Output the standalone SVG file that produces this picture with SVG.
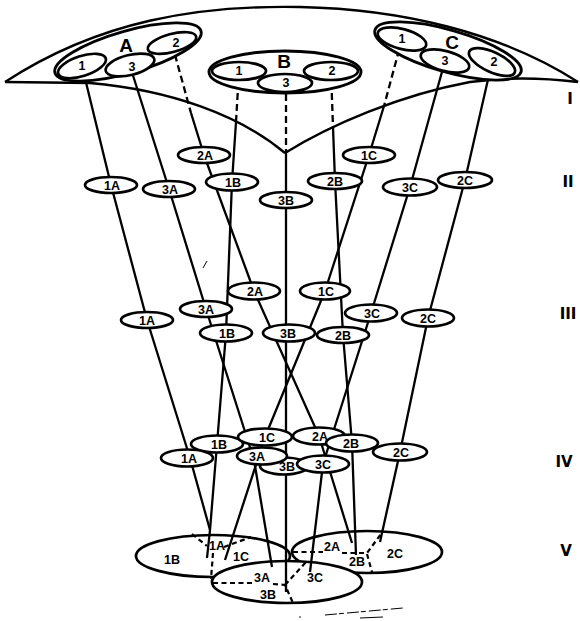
<svg xmlns="http://www.w3.org/2000/svg" width="580" height="621" viewBox="0 0 580 621">
<defs>
<style>
.lens{fill:none;stroke:#000;stroke-width:2.4;stroke-linejoin:round}
.e{fill:#fff;stroke:#000;stroke-width:2.7}
.eb{fill:#fff;stroke:#000;stroke-width:2.9}
.c{fill:none;stroke:#000;stroke-width:2.3;stroke-linejoin:round}
.d{stroke-dasharray:7 4}
.p{fill:none;stroke:#000;stroke-width:2.2;stroke-dasharray:5 3.5}
.t{font-family:"Liberation Sans",Arial,sans-serif;font-weight:bold;font-size:12.5px;text-anchor:middle;fill:#000}
.big{font-size:19px}
.r{font-family:"DejaVu Sans",sans-serif;font-weight:bold;font-size:15px;text-anchor:middle;fill:#000}
.m{fill:none;stroke:#000;stroke-width:1}
</style>
</defs>
<rect width="580" height="621" fill="#fff"/>

<g id="lens">
<path class="lens" d="M5,82 C100,20 200,5 300,7 C400,9 500,32 578,82"/>
<path class="lens" d="M5,82 L90,83 C170,90 240,115 285,153"/>
<path class="lens" d="M578,82 Q520,75 470,82 C400,95 330,125 285,153"/>
</g>

<g id="level-V">
<g id="V-1B"><ellipse class="e" cx="213" cy="556" rx="77" ry="21"/></g>
<g id="V-2C"><ellipse class="e" cx="367" cy="552" rx="75" ry="21"/></g>
<g id="V-3B"><ellipse class="e" cx="287" cy="582" rx="75" ry="21"/></g>
<g id="V-partitions">
<path class="p" d="M192,534 L207,546"/>
<path class="p" d="M224,547 L251,537"/>
<path class="p" d="M213,553 L211,579"/>
<path class="p" d="M213,583 L253,583"/>
<path class="p" d="M273,584 L285,585 L293,603"/>
<path class="p" d="M285,585 L306,562"/>
<path class="p" d="M293,552 L323,552"/>
<path class="p" d="M342,553 L367,553 L381,534"/>
<path class="p" d="M367,554 L372,572"/>
</g>
<g id="V-labels">
<text class="t" x="172" y="564">1B</text>
<text class="t" x="217" y="550">1A</text>
<text class="t" x="241" y="561">1C</text>
<text class="t" x="262" y="582">3A</text>
<text class="t" x="268" y="599">3B</text>
<text class="t" x="315" y="582">3C</text>
<text class="t" x="332" y="551">2A</text>
<text class="t" x="357" y="566">2B</text>
<text class="t" x="395" y="558">2C</text>
</g>
</g>

<g id="connectors">
<path class="c" d="M82,66 L111,185 L147,320 L190,458 L210,530 L207,558"/>
<path class="c" d="M130,66 L169,189 L206,309 L254,460 L272,567"/>
<path class="c d" d="M172,44 L191,113"/>
<path class="c" d="M191,113 L204,155 L254,291 L319,436 L352,543"/>
<path class="c d" d="M239,71 L236,122"/>
<path class="c" d="M236,122 L232,182 L226,333 L217,444 L210,530"/>
<path class="c d" d="M286,83 L286,153"/>
<path class="c" d="M286,153 L286,592"/>
<path class="c d" d="M331,71 L333,127"/>
<path class="c" d="M333,127 L335,181 L343,335 L352,443 L356,555"/>
<path class="c d" d="M402,39 L384,106"/>
<path class="c" d="M384,106 L369,155 L325,291 L265,437 L225,560"/>
<path class="c" d="M445,61 L410,187 L371,313 L323,464 L310,572"/>
<path class="c" d="M492,62 L465,180 L428,318 L400,452 L380,542"/>
</g>

<g id="level-IV">
<g id="IV-3B"><ellipse class="e" cx="284" cy="466" rx="24" ry="8.5"/><text class="t" x="287" y="471">3B</text></g>
<g id="IV-3A"><ellipse class="e" cx="262" cy="456" rx="25" ry="8.5"/><text class="t" x="257" y="461">3A</text></g>
<g id="IV-3C"><ellipse class="e" cx="323" cy="464" rx="26" ry="8.5"/><text class="t" x="323" y="469">3C</text></g>
<g id="IV-1B"><ellipse class="e" cx="217" cy="444" rx="26" ry="8.5"/><text class="t" x="219" y="449">1B</text></g>
<g id="IV-1A"><ellipse class="e" cx="187" cy="458" rx="26" ry="8.5"/><text class="t" x="189" y="463">1A</text></g>
<g id="IV-1C"><ellipse class="e" cx="265" cy="437" rx="27" ry="8.5"/><text class="t" x="267" y="442">1C</text></g>
<g id="IV-2A"><ellipse class="e" cx="319" cy="436" rx="26" ry="8.5"/><text class="t" x="320" y="441">2A</text></g>
<g id="IV-2B"><ellipse class="e" cx="352" cy="443" rx="26" ry="8.5"/><text class="t" x="351" y="448">2B</text></g>
<g id="IV-2C"><ellipse class="e" cx="400" cy="452" rx="27" ry="8.5"/><text class="t" x="401" y="457">2C</text></g>
</g>

<g id="level-III">
<g id="III-1A"><ellipse class="e" cx="147" cy="320" rx="26" ry="8"/><text class="t" x="147" y="325">1A</text></g>
<g id="III-3A"><ellipse class="e" cx="206" cy="309" rx="26" ry="8"/><text class="t" x="206" y="314">3A</text></g>
<g id="III-2A"><ellipse class="e" cx="254" cy="291" rx="26" ry="8.5"/><text class="t" x="255" y="296">2A</text></g>
<g id="III-1B"><ellipse class="e" cx="226" cy="333" rx="26" ry="8.5"/><text class="t" x="227" y="338">1B</text></g>
<g id="III-3B"><ellipse class="e" cx="289" cy="333" rx="26" ry="8.5"/><text class="t" x="288" y="338">3B</text></g>
<g id="III-1C"><ellipse class="e" cx="325" cy="291" rx="25" ry="8.5"/><text class="t" x="326" y="296">1C</text></g>
<g id="III-3C"><ellipse class="e" cx="371" cy="313" rx="26" ry="8.5"/><text class="t" x="372" y="318">3C</text></g>
<g id="III-2B"><ellipse class="e" cx="343" cy="335" rx="26" ry="8"/><text class="t" x="343" y="340">2B</text></g>
<g id="III-2C"><ellipse class="e" cx="428" cy="318" rx="26" ry="8.5"/><text class="t" x="428" y="323">2C</text></g>
</g>

<g id="level-II">
<g id="II-2A"><ellipse class="e" cx="204" cy="155" rx="26" ry="8"/><text class="t" x="205" y="160">2A</text></g>
<g id="II-1A"><ellipse class="e" cx="111" cy="185" rx="26" ry="8"/><text class="t" x="112" y="190">1A</text></g>
<g id="II-3A"><ellipse class="e" cx="169" cy="189" rx="26" ry="8"/><text class="t" x="170" y="194">3A</text></g>
<g id="II-1B"><ellipse class="e" cx="232" cy="182" rx="26" ry="8.5"/><text class="t" x="233" y="187">1B</text></g>
<g id="II-3B"><ellipse class="e" cx="286" cy="200" rx="26" ry="8"/><text class="t" x="286" y="205">3B</text></g>
<g id="II-1C"><ellipse class="e" cx="369" cy="155" rx="26" ry="8"/><text class="t" x="369" y="160">1C</text></g>
<g id="II-2B"><ellipse class="e" cx="335" cy="181" rx="27" ry="8"/><text class="t" x="335" y="186">2B</text></g>
<g id="II-3C"><ellipse class="e" cx="410" cy="187" rx="27" ry="8.5"/><text class="t" x="410" y="192">3C</text></g>
<g id="II-2C"><ellipse class="e" cx="465" cy="180" rx="27" ry="8"/><text class="t" x="465" y="185">2C</text></g>
</g>

<g id="group-A">
<ellipse class="eb" cx="128" cy="52" rx="76" ry="21" transform="rotate(-16 128 52)"/>
<text class="t big" x="126" y="52">A</text>
<g id="A-1"><ellipse class="e" cx="82" cy="66" rx="25" ry="10" transform="rotate(-18 82 66)"/><text class="t" x="82" y="70">1</text></g>
<g id="A-3"><ellipse class="e" cx="130" cy="65" rx="25" ry="10" transform="rotate(-14 130 65)"/><text class="t" x="132" y="71">3</text></g>
<g id="A-2"><ellipse class="e" cx="172" cy="43" rx="25" ry="9" transform="rotate(-15 172 43)"/><text class="t" x="176" y="47">2</text></g>
</g>

<g id="group-B">
<ellipse class="eb" cx="285" cy="72" rx="76" ry="21"/>
<text class="t big" x="284" y="68">B</text>
<g id="B-1"><ellipse class="e" cx="239" cy="71" rx="27" ry="9"/><text class="t" x="239" y="75">1</text></g>
<g id="B-3"><ellipse class="e" cx="285" cy="83" rx="27" ry="9"/><text class="t" x="286" y="87">3</text></g>
<g id="B-2"><ellipse class="e" cx="331" cy="71" rx="27" ry="9"/><text class="t" x="332" y="75">2</text></g>
</g>

<g id="group-C">
<ellipse class="eb" cx="448" cy="51" rx="76" ry="21" transform="rotate(16 448 51)"/>
<text class="t big" x="452" y="49">C</text>
<g id="C-1"><ellipse class="e" cx="402" cy="39" rx="25" ry="10" transform="rotate(15 402 39)"/><text class="t" x="402" y="43">1</text></g>
<g id="C-3"><ellipse class="e" cx="445" cy="61" rx="25" ry="10" transform="rotate(15 445 61)"/><text class="t" x="445" y="65">3</text></g>
<g id="C-2"><ellipse class="e" cx="492" cy="62" rx="25" ry="10" transform="rotate(25 492 62)"/><text class="t" x="494" y="66">2</text></g>
</g>

<g id="levels">
<text class="r" x="570" y="104">I</text>
<text class="r" x="568" y="187">II</text>
<text class="r" x="568" y="319">III</text>
<text class="r" x="564" y="467">IV</text>
<text class="r" x="566" y="556">V</text>
</g>

<g id="marks">
<path class="m" d="M203,268 L207,261"/>
<path class="m" d="M325,615 L403,608" stroke-dasharray="12 2 5 3"/>
<path class="m" d="M360,618 L383,617"/>
<circle cx="300" cy="617" r="0.8" fill="#000"/>
</g>
</svg>
